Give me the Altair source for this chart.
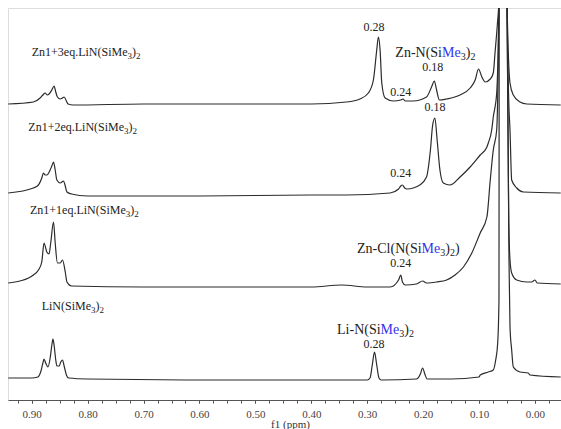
import altair as alt
import pandas as pd

# ---------------- spectra (ppm, intensity in arbitrary stacked units) -------------
t1_ppm = [0.942, 0.897, 0.885, 0.880, 0.876, 0.872, 0.869, 0.864, 0.860, 0.857, 0.854, 0.849,
          0.845, 0.842, 0.838, 0.835, 0.826, 0.70, 0.60, 0.50, 0.45, 0.40, 0.337, 0.313, 0.298,
          0.289, 0.283, 0.280, 0.277, 0.274, 0.268, 0.253, 0.240, 0.236, 0.232, 0.218, 0.194,
          0.185, 0.180, 0.176, 0.171, 0.158, 0.134, 0.116, 0.107, 0.101, 0.095, 0.089, 0.080,
          0.0746, 0.0715, 0.0674, 0.0645, 0.057, 0.050, 0.0447, 0.0388, 0.0268, 0.0148, -0.046]
t1_val = [296, 298, 302, 305, 307, 305, 306, 310, 314, 308, 303, 301,
          302, 303, 299, 296, 295, 296, 296, 296, 296, 296, 298, 301, 307,
          320, 350, 363, 350, 317, 302, 299, 300, 301, 299, 299, 303,
          313, 319, 310, 300, 301, 305, 312, 320, 331, 323, 318, 321,
          327, 347, 375, 400, 1200, 400, 317, 305, 298, 296, 295]

t2_ppm = [0.942, 0.897, 0.888, 0.882, 0.879, 0.876, 0.873, 0.867, 0.864, 0.861, 0.858, 0.855,
          0.849, 0.843, 0.840, 0.837, 0.829, 0.80, 0.60, 0.40, 0.337, 0.259, 0.244, 0.240,
          0.237, 0.233, 0.229, 0.206, 0.194, 0.187, 0.183, 0.179, 0.175, 0.170, 0.164, 0.152,
          0.134, 0.116, 0.098, 0.086, 0.0835, 0.0774, 0.0746, 0.0685, 0.0645, 0.057, 0.050,
          0.047, 0.0447, 0.0417, 0.0327, 0.0209, -0.046]
t2_val = [207, 212, 215, 222, 227, 225, 225, 230, 234, 238, 230, 220,
          217, 219, 214, 208, 206, 204, 204, 205, 205, 207, 211, 214,
          215, 212, 211, 215, 223, 250, 275, 282, 260, 230, 217, 215,
          223, 233, 245, 253, 257, 270, 283, 307, 400, 1200, 400,
          300, 270, 220, 212, 208, 207]

t3_ppm = [0.942, 0.921, 0.897, 0.888, 0.882, 0.878, 0.873, 0.869, 0.866, 0.861, 0.858, 0.854,
          0.849, 0.845, 0.840, 0.837, 0.829, 0.70, 0.50, 0.40, 0.346, 0.30, 0.259, 0.244,
          0.240, 0.237, 0.232, 0.212, 0.201, 0.194, 0.176, 0.158, 0.143, 0.128, 0.113, 0.098,
          0.086, 0.080, 0.0746, 0.0685, 0.0645, 0.057, 0.050, 0.047, 0.0447, 0.0417, 0.0327,
          0.0148, 0.006, 0.000, -0.004, -0.046]
t3_val = [117, 119, 125, 130, 138, 157, 148, 146, 157, 178, 157, 137,
          137, 140, 128, 118, 114, 113, 113, 113, 115, 113, 113, 120,
          125, 118, 115, 116, 119, 117, 118, 120, 125, 133, 147, 167,
          183, 220, 250, 270, 400, 1200, 400, 180, 140, 127, 120,
          118, 118, 120, 117, 116]

t4_ppm = [0.942, 0.900, 0.889, 0.884, 0.880, 0.878, 0.875, 0.871, 0.867, 0.864, 0.862, 0.860,
          0.857, 0.855, 0.851, 0.848, 0.845, 0.842, 0.838, 0.834, 0.80, 0.60, 0.40, 0.30,
          0.295, 0.291, 0.287, 0.283, 0.279, 0.275, 0.212, 0.205, 0.201, 0.197, 0.193, 0.15,
          0.10, 0.098, 0.0835, 0.0746, 0.0703, 0.0667, 0.0644, 0.0640, 0.057, 0.050, 0.0465,
          0.0447, 0.0417, 0.0388, 0.0268, 0.012, 0.009, -0.046]
t4_val = [22, 22, 23, 28, 37, 41, 37, 33, 42, 55, 61, 55,
          40, 34, 34, 38, 40, 34, 25, 22, 21, 20, 20, 20,
          22, 35, 48, 35, 22, 20, 21, 26, 32, 26, 21, 21,
          23, 25, 28, 30, 40, 57, 100, 400, 1200, 400, 140,
          73, 50, 33, 28, 27, 25, 23]

# ---------------- annotations ----------------
sample_main = ["Zn1+3eq.LiN(SiMe", "Zn1+2eq.LiN(SiMe", "Zn1+1eq.LiN(SiMe", "LiN(SiMe"]
sample_ppm = [0.7287, 0.7348, 0.7318, 0.7940]
sample_val = [344, 269, 186, 90]

peak_texts = ["0.28", "0.18", "0.24", "0.18", "0.24", "0.24", "0.28"]
peak_ppm = [0.288, 0.183, 0.240, 0.179, 0.240, 0.240, 0.288]
peak_val = [369, 329, 304, 289, 223, 133, 52]

compound_pre = ["Zn-N(Si", "Zn-Cl(N(Si", "Li-N(Si"]
compound_mid = ["Me", "Me", "Me"]
compound_tail = ["", ")", ""]
compound_ppm = [0.1663, 0.2028, 0.2761]
compound_val = [343, 147, 66]

minor_ticks = [0.925, 0.9, 0.875, 0.85, 0.825, 0.8, 0.775, 0.75, 0.725, 0.7, 0.675, 0.65,
               0.625, 0.6, 0.575, 0.55, 0.525, 0.5, 0.475, 0.45, 0.425, 0.4, 0.375, 0.35,
               0.325, 0.3, 0.275, 0.25, 0.225, 0.2, 0.175, 0.15, 0.125, 0.1, 0.075, 0.05,
               0.025, 0.0, -0.025]
major_ticks = [0.9, 0.8, 0.7, 0.6, 0.5, 0.4, 0.3, 0.2, 0.1, 0.0]

FONT = "Liberation Serif"
INK = "#2b2b2b"
TXT = "#222222"
BLUE = "#3333ee"

rows = []
for name, xs, ys in [("t1", t1_ppm, t1_val), ("t2", t2_ppm, t2_val),
                     ("t3", t3_ppm, t3_val), ("t4", t4_ppm, t4_val)]:
    for xv, yv in zip(xs, ys):
        rows.append({"trace": name, "ppm": xv, "val": yv})
spec = pd.DataFrame(rows)

xscale = alt.Scale(domain=[-0.0465, 0.9424], reverse=True, nice=False, zero=False)
yscale = alt.Scale(domain=[0, 392], nice=False, zero=False)

minor_axis = alt.Axis(
    orient="bottom", values=minor_ticks, labels=False, title=None, grid=False,
    tickSize=3, domainColor="#555", tickColor="#555",
)
major_axis = alt.Axis(
    orient="bottom", values=major_ticks, format=".2f", grid=False, domain=False,
    tickSize=3, tickColor="#555",
    labelColor="#444", labelFont=FONT, labelFontSize=11,
    labelPadding=5, labelFlush=False, labelOverlap=False,
    title="f1 (ppm)", titleFont=FONT, titleFontSize=11, titleFontWeight="normal",
    titleColor="#333", titleX=282, titleY=27, titleBaseline="alphabetic", titleAlign="center",
)

lines = alt.Chart(spec).mark_line(
    color=INK, strokeWidth=1.2, clip=True, interpolate="monotone"
).encode(
    x=alt.X("ppm:Q", scale=xscale, axis=minor_axis),
    y=alt.Y("val:Q", scale=yscale, axis=None),
    detail="trace:N",
    order=alt.Order("ppm:Q", sort="descending"),
)

Y = alt.Y("val:Q", scale=yscale, axis=None)

def txt(df, text, axis=None, **kw):
    base = dict(baseline="alphabetic", font=FONT, color=TXT)
    base.update(kw)
    return alt.Chart(df).mark_text(**base).encode(
        x=alt.X("ppm:Q", scale=xscale, axis=axis), y=Y, text=text)

pdf = pd.DataFrame({"ppm": peak_ppm, "val": peak_val, "text": peak_texts})
peaks = txt(pdf, "text:N", axis=major_axis, align="center", fontSize=12)

sdf = pd.DataFrame({"ppm": sample_ppm, "val": sample_val, "main": sample_main})
s_main = txt(sdf, "main:N", align="right", fontSize=12)
s_sub3 = txt(sdf, alt.value("3"), align="left", fontSize=9, dy=3)
s_par = txt(sdf, alt.value(")"), align="left", fontSize=12, dx=4.5)
s_sub2 = txt(sdf, alt.value("2"), align="left", fontSize=9, dy=3, dx=8.5)

cdf = pd.DataFrame({"ppm": compound_ppm, "val": compound_val, "pre": compound_pre,
                    "mid": compound_mid, "tail": compound_tail})
c_pre = txt(cdf, "pre:N", align="right", fontSize=14)
c_mid = txt(cdf, "mid:N", align="left", fontSize=14, color=BLUE)
c_sub3 = txt(cdf, alt.value("3"), align="left", fontSize=10, dx=18.7, dy=3)
c_par = txt(cdf, alt.value(")"), align="left", fontSize=14, dx=23.7)
c_sub2 = txt(cdf, alt.value("2"), align="left", fontSize=10, dx=28.4, dy=3)
c_tail = txt(cdf, "tail:N", align="left", fontSize=14, dx=33.4)

chart = alt.layer(lines, peaks, s_main, s_sub3, s_par, s_sub2,
                  c_pre, c_mid, c_sub3, c_par, c_sub2, c_tail).resolve_axis(
    x="independent"
).properties(
    width=553, height=392,
    autosize=alt.AutoSizeParams(type="none"),
    padding={"left": 8, "top": 8, "right": 0, "bottom": 29},
).configure_view(stroke=None).configure(background="white")

chart.save("out.html", embed_options={"renderer": "svg", "actions": False})
